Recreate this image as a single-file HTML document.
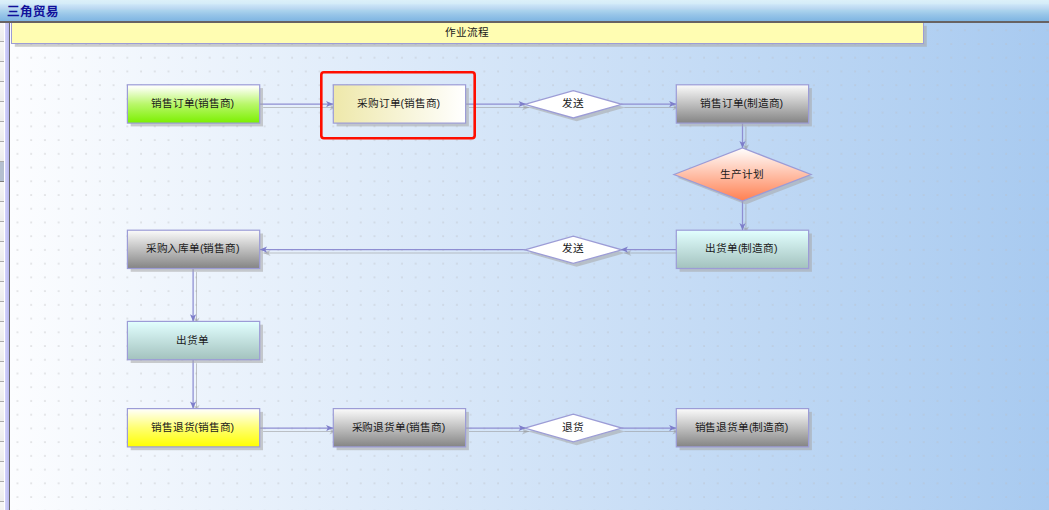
<!DOCTYPE html>
<html lang="zh-CN"><head><meta charset="utf-8"><title>三角贸易</title>
<style>
html,body{margin:0;padding:0;}
body{width:1049px;height:510px;overflow:hidden;position:relative;background:#fff;font-family:"Liberation Sans", sans-serif;}
.title{position:absolute;left:0;top:0;width:1049px;height:21px;background:linear-gradient(to bottom,#dcf0f9 0px,#d5ecf8 3.5px,#cae4f7 5px,#b8d6f0 9px,#abd3ed 10.5px,#96c4e8 15px,#7fb5e2 21px);}
.title span{position:absolute;left:7px;top:4.2px;font-size:12.5px;line-height:16px;font-weight:bold;color:#10109a;white-space:nowrap;}
.tline{position:absolute;left:0;top:20.8px;width:1049px;height:2.1px;background:#676363;}
.canvas{position:absolute;left:10px;top:22px;width:1039px;height:488px;background:linear-gradient(to right,#fcfdff 0%,#a8caf0 100%);}
.strip{position:absolute;left:0;top:22px;width:10px;height:488px;background:#fff;}
.cells{position:absolute;left:0;top:0;width:4.1px;height:488px;background:repeating-linear-gradient(to bottom,#f6f6f6 0px,#ececec 19px,#ababab 19px,#ababab 20px);background-position:0 0px;}
.sel{position:absolute;left:0;top:140px;width:4.1px;height:19px;background:#b4bfd0;border-bottom:1.3px solid #7e7e7e;}
.lav{position:absolute;left:5.2px;top:0;width:3.4px;height:488px;background:linear-gradient(to right,#d4d4fa,#b8b8f0);}
.dk{position:absolute;left:8.5px;top:0;width:1.5px;height:488px;background:#6a6a6a;}
.cv{position:absolute;left:0;top:0;}
.lb{position:absolute;height:12px;text-align:center;font-size:10.67px;letter-spacing:-0.15px;line-height:12px;color:#1a1a1a;white-space:nowrap;}
.hd{padding-bottom:2px;padding-right:1px;box-sizing:border-box;position:absolute;left:11.5px;top:22.5px;width:912px;height:21px;display:flex;align-items:center;justify-content:center;font-size:10.67px;letter-spacing:-0.15px;line-height:12px;color:#1a1a1a;}
</style></head><body>
<div class="canvas"></div>
<div class="strip"><div class="cells"></div><div class="sel"></div><div class="lav"></div><div class="dk"></div></div>
<svg class="cv" width="1049" height="510" viewBox="0 0 1049 510">
<defs>
<linearGradient id="gGreen" x1="0" y1="0" x2="0" y2="1"><stop offset="0" stop-color="#ffffff"/><stop offset="0.08" stop-color="#fafff0"/><stop offset="0.5" stop-color="#b9f76b"/><stop offset="1" stop-color="#7bf000"/></linearGradient>
<linearGradient id="gKhaki" x1="0" y1="0" x2="1" y2="0"><stop offset="0" stop-color="#eee8aa"/><stop offset="1" stop-color="#ffffff"/></linearGradient>
<linearGradient id="gGray" x1="0" y1="0" x2="0" y2="1"><stop offset="0" stop-color="#fbfbfb"/><stop offset="1" stop-color="#848484"/></linearGradient>
<linearGradient id="gCyan" x1="0" y1="0" x2="0" y2="1"><stop offset="0" stop-color="#e2ffff"/><stop offset="1" stop-color="#a3c2be"/></linearGradient>
<linearGradient id="gYellow" x1="0" y1="0" x2="0" y2="1"><stop offset="0" stop-color="#ffffff"/><stop offset="0.5" stop-color="#ffff72"/><stop offset="1" stop-color="#ffff00"/></linearGradient>
<linearGradient id="gOrange" x1="0" y1="0" x2="0" y2="1"><stop offset="0" stop-color="#ffffff"/><stop offset="1" stop-color="#ff7f50"/></linearGradient>
<pattern id="dots" x="10.55" y="23.35" width="13.732" height="13.73" patternUnits="userSpaceOnUse"><rect x="6.4" y="6.4" width="1" height="1" fill="#ffffff" fill-opacity="0.88"/></pattern>
<linearGradient id="gDot" gradientUnits="userSpaceOnUse" x1="10" y1="0" x2="1049" y2="0"><stop offset="0" stop-color="#9c9c9c"/><stop offset="0.5" stop-color="#b0acac"/><stop offset="1" stop-color="#c6bcb4"/></linearGradient>
<mask id="mDots" maskUnits="userSpaceOnUse" x="10" y="22" width="1039" height="488"><rect x="10" y="22.5" width="1039" height="487.5" fill="url(#dots)"/></mask>
</defs>
<rect x="10" y="22.5" width="1039" height="487.5" fill="url(#gDot)" mask="url(#mDots)"/>
<rect x="14.8" y="25.8" width="912" height="21" fill="rgba(165,165,165,0.55)"/>
<rect x="11.5" y="22.5" width="912" height="21" fill="#fffdb2" stroke="#9c9cd6" stroke-width="1"/>
<line x1="263.1" y1="107.4" x2="336.6" y2="107.4" stroke="#909090" stroke-opacity="0.5" stroke-width="1.05"/>
<polygon points="336.60,107.40 329.40,104.30 331.30,107.40 329.40,110.50" fill="rgba(144,144,144,0.45)"/>
<line x1="469.0" y1="107.4" x2="529.2" y2="107.4" stroke="#909090" stroke-opacity="0.5" stroke-width="1.05"/>
<polygon points="529.20,107.40 522.00,104.30 523.90,107.40 522.00,110.50" fill="rgba(144,144,144,0.45)"/>
<line x1="624.4" y1="107.4" x2="679.6" y2="107.4" stroke="#909090" stroke-opacity="0.5" stroke-width="1.05"/>
<polygon points="679.60,107.40 672.40,104.30 674.30,107.40 672.40,110.50" fill="rgba(144,144,144,0.45)"/>
<line x1="745.9" y1="126.7" x2="745.9" y2="151.5" stroke="#909090" stroke-opacity="0.5" stroke-width="1.05"/>
<polygon points="745.90,151.50 749.00,144.30 745.90,146.20 742.80,144.30" fill="rgba(144,144,144,0.45)"/>
<line x1="745.9" y1="204.4" x2="745.9" y2="233.6" stroke="#909090" stroke-opacity="0.5" stroke-width="1.05"/>
<polygon points="745.90,233.60 749.00,226.40 745.90,228.30 742.80,226.40" fill="rgba(144,144,144,0.45)"/>
<line x1="679.7" y1="253.0" x2="624.2" y2="253.0" stroke="#909090" stroke-opacity="0.5" stroke-width="1.05"/>
<polygon points="624.20,253.00 631.40,256.10 629.50,253.00 631.40,249.90" fill="rgba(144,144,144,0.45)"/>
<line x1="529.0" y1="253.0" x2="263.3" y2="253.0" stroke="#909090" stroke-opacity="0.5" stroke-width="1.05"/>
<polygon points="263.30,253.00 270.50,256.10 268.60,253.00 270.50,249.90" fill="rgba(144,144,144,0.45)"/>
<line x1="196.5" y1="272.1" x2="196.5" y2="324.8" stroke="#909090" stroke-opacity="0.5" stroke-width="1.05"/>
<polygon points="196.50,324.80 199.60,317.60 196.50,319.50 193.40,317.60" fill="rgba(144,144,144,0.45)"/>
<line x1="196.5" y1="363.3" x2="196.5" y2="412.0" stroke="#909090" stroke-opacity="0.5" stroke-width="1.05"/>
<polygon points="196.50,412.00 199.60,404.80 196.50,406.70 193.40,404.80" fill="rgba(144,144,144,0.45)"/>
<line x1="263.1" y1="431.4" x2="336.6" y2="431.4" stroke="#909090" stroke-opacity="0.5" stroke-width="1.05"/>
<polygon points="336.60,431.40 329.40,428.30 331.30,431.40 329.40,434.50" fill="rgba(144,144,144,0.45)"/>
<line x1="469.0" y1="431.4" x2="529.2" y2="431.4" stroke="#909090" stroke-opacity="0.5" stroke-width="1.05"/>
<polygon points="529.20,431.40 522.00,428.30 523.90,431.40 522.00,434.50" fill="rgba(144,144,144,0.45)"/>
<line x1="624.4" y1="431.4" x2="679.6" y2="431.4" stroke="#909090" stroke-opacity="0.5" stroke-width="1.05"/>
<polygon points="679.60,431.40 672.40,428.30 674.30,431.40 672.40,434.50" fill="rgba(144,144,144,0.45)"/>
<line x1="259.7" y1="104.0" x2="333.2" y2="104.0" stroke="#8e8ed2" stroke-width="1.25"/>
<line x1="465.6" y1="104.0" x2="525.8" y2="104.0" stroke="#8e8ed2" stroke-width="1.25"/>
<line x1="621.0" y1="104.0" x2="676.2" y2="104.0" stroke="#8e8ed2" stroke-width="1.25"/>
<line x1="742.5" y1="123.3" x2="742.5" y2="148.1" stroke="#8e8ed2" stroke-width="1.25"/>
<line x1="742.5" y1="201.0" x2="742.5" y2="230.2" stroke="#8e8ed2" stroke-width="1.25"/>
<line x1="676.3" y1="249.6" x2="620.8" y2="249.6" stroke="#8e8ed2" stroke-width="1.25"/>
<line x1="525.6" y1="249.6" x2="259.9" y2="249.6" stroke="#8e8ed2" stroke-width="1.25"/>
<line x1="193.1" y1="268.7" x2="193.1" y2="321.4" stroke="#8e8ed2" stroke-width="1.25"/>
<line x1="193.1" y1="359.9" x2="193.1" y2="408.6" stroke="#8e8ed2" stroke-width="1.25"/>
<line x1="259.7" y1="428.0" x2="333.2" y2="428.0" stroke="#8e8ed2" stroke-width="1.25"/>
<line x1="465.6" y1="428.0" x2="525.8" y2="428.0" stroke="#8e8ed2" stroke-width="1.25"/>
<line x1="621.0" y1="428.0" x2="676.2" y2="428.0" stroke="#8e8ed2" stroke-width="1.25"/>
<rect x="130.7" y="88.1" width="132.3" height="38.3" fill="rgba(165,165,165,0.55)"/>
<rect x="127.4" y="84.8" width="132.3" height="38.3" fill="url(#gGreen)" stroke="#9c9cd6" stroke-width="1.2"/>
<rect x="336.6" y="88.1" width="132.3" height="38.3" fill="rgba(165,165,165,0.55)"/>
<rect x="333.3" y="84.8" width="132.3" height="38.3" fill="url(#gKhaki)" stroke="#9c9cd6" stroke-width="1.2"/>
<rect x="679.6" y="88.1" width="132.3" height="38.3" fill="rgba(165,165,165,0.55)"/>
<rect x="676.3" y="84.8" width="132.3" height="38.3" fill="url(#gGray)" stroke="#9c9cd6" stroke-width="1.2"/>
<rect x="130.7" y="233.5" width="132.3" height="38.3" fill="rgba(165,165,165,0.55)"/>
<rect x="127.4" y="230.2" width="132.3" height="38.3" fill="url(#gGray)" stroke="#9c9cd6" stroke-width="1.2"/>
<rect x="679.6" y="233.5" width="132.3" height="38.3" fill="rgba(165,165,165,0.55)"/>
<rect x="676.3" y="230.2" width="132.3" height="38.3" fill="url(#gCyan)" stroke="#9c9cd6" stroke-width="1.2"/>
<rect x="130.7" y="324.7" width="132.3" height="38.3" fill="rgba(165,165,165,0.55)"/>
<rect x="127.4" y="321.4" width="132.3" height="38.3" fill="url(#gCyan)" stroke="#9c9cd6" stroke-width="1.2"/>
<rect x="130.7" y="411.9" width="132.3" height="38.3" fill="rgba(165,165,165,0.55)"/>
<rect x="127.4" y="408.6" width="132.3" height="38.3" fill="url(#gYellow)" stroke="#9c9cd6" stroke-width="1.2"/>
<rect x="336.6" y="411.9" width="132.3" height="38.3" fill="rgba(165,165,165,0.55)"/>
<rect x="333.3" y="408.6" width="132.3" height="38.3" fill="url(#gGray)" stroke="#9c9cd6" stroke-width="1.2"/>
<rect x="679.6" y="411.9" width="132.3" height="38.3" fill="rgba(165,165,165,0.55)"/>
<rect x="676.3" y="408.6" width="132.3" height="38.3" fill="url(#gGray)" stroke="#9c9cd6" stroke-width="1.2"/>
<polygon points="528.1,107.6 576.6,93.9 625.1,107.6 576.6,121.2" fill="rgba(165,165,165,0.55)"/>
<polygon points="524.8,104.3 573.3,90.6 621.8,104.3 573.3,118.0" fill="#ffffff" stroke="#9c9cd6" stroke-width="1.3"/>
<polygon points="528.1,253.1 576.6,239.4 625.1,253.1 576.6,266.7" fill="rgba(165,165,165,0.55)"/>
<polygon points="524.8,249.8 573.3,236.1 621.8,249.8 573.3,263.4" fill="#ffffff" stroke="#9c9cd6" stroke-width="1.3"/>
<polygon points="528.1,431.4 576.6,417.6 625.1,431.4 576.6,445.2" fill="rgba(165,165,165,0.55)"/>
<polygon points="524.8,428.1 573.3,414.2 621.8,428.1 573.3,441.9" fill="#ffffff" stroke="#9c9cd6" stroke-width="1.3"/>
<polygon points="677.3,177.8 745.8,151.2 814.3,177.8 745.8,204.4" fill="rgba(165,165,165,0.55)"/>
<polygon points="674.0,174.5 742.5,147.9 811.0,174.5 742.5,201.1" fill="url(#gOrange)" stroke="#9c9cd6" stroke-width="1.3"/>
<polygon points="333.20,104.00 326.00,100.90 327.90,104.00 326.00,107.10" fill="#7e7eca"/>
<polygon points="525.80,104.00 518.60,100.90 520.50,104.00 518.60,107.10" fill="#7e7eca"/>
<polygon points="676.20,104.00 669.00,100.90 670.90,104.00 669.00,107.10" fill="#7e7eca"/>
<polygon points="742.50,148.10 745.60,140.90 742.50,142.80 739.40,140.90" fill="#7e7eca"/>
<polygon points="742.50,230.20 745.60,223.00 742.50,224.90 739.40,223.00" fill="#7e7eca"/>
<polygon points="620.80,249.60 628.00,252.70 626.10,249.60 628.00,246.50" fill="#7e7eca"/>
<polygon points="259.90,249.60 267.10,252.70 265.20,249.60 267.10,246.50" fill="#7e7eca"/>
<polygon points="193.10,321.40 196.20,314.20 193.10,316.10 190.00,314.20" fill="#7e7eca"/>
<polygon points="193.10,408.60 196.20,401.40 193.10,403.30 190.00,401.40" fill="#7e7eca"/>
<polygon points="333.20,428.00 326.00,424.90 327.90,428.00 326.00,431.10" fill="#7e7eca"/>
<polygon points="525.80,428.00 518.60,424.90 520.50,428.00 518.60,431.10" fill="#7e7eca"/>
<polygon points="676.20,428.00 669.00,424.90 670.90,428.00 669.00,431.10" fill="#7e7eca"/>
<rect x="321.3" y="72.3" width="153.4" height="65.9" rx="2.6" ry="2.6" fill="none" stroke="#ff0e00" stroke-width="2.6"/>
</svg>
<div class="hd">作业流程</div>
<div class="lb" style="left:126.4px;top:97px;width:132.3px">销售订单(销售商)</div>
<div class="lb" style="left:332.3px;top:97px;width:132.3px">采购订单(销售商)</div>
<div class="lb" style="left:675.3px;top:97px;width:132.3px">销售订单(制造商)</div>
<div class="lb" style="left:126.4px;top:242px;width:132.3px">采购入库单(销售商)</div>
<div class="lb" style="left:675.3px;top:242px;width:132.3px">出货单(制造商)</div>
<div class="lb" style="left:126.4px;top:334px;width:132.3px">出货单</div>
<div class="lb" style="left:126.4px;top:421px;width:132.3px">销售退货(销售商)</div>
<div class="lb" style="left:332.3px;top:421px;width:132.3px">采购退货单(销售商)</div>
<div class="lb" style="left:675.3px;top:421px;width:132.3px">销售退货单(制造商)</div>
<div class="lb" style="left:527.7px;top:97px;width:90px">发送</div>
<div class="lb" style="left:527.7px;top:242px;width:90px">发送</div>
<div class="lb" style="left:527.7px;top:421px;width:90px">退货</div>
<div class="lb" style="left:697.0px;top:168px;width:90px">生产计划</div>
<div class="title"><span>三角贸易</span></div>
<div class="tline"></div>
</body></html>
